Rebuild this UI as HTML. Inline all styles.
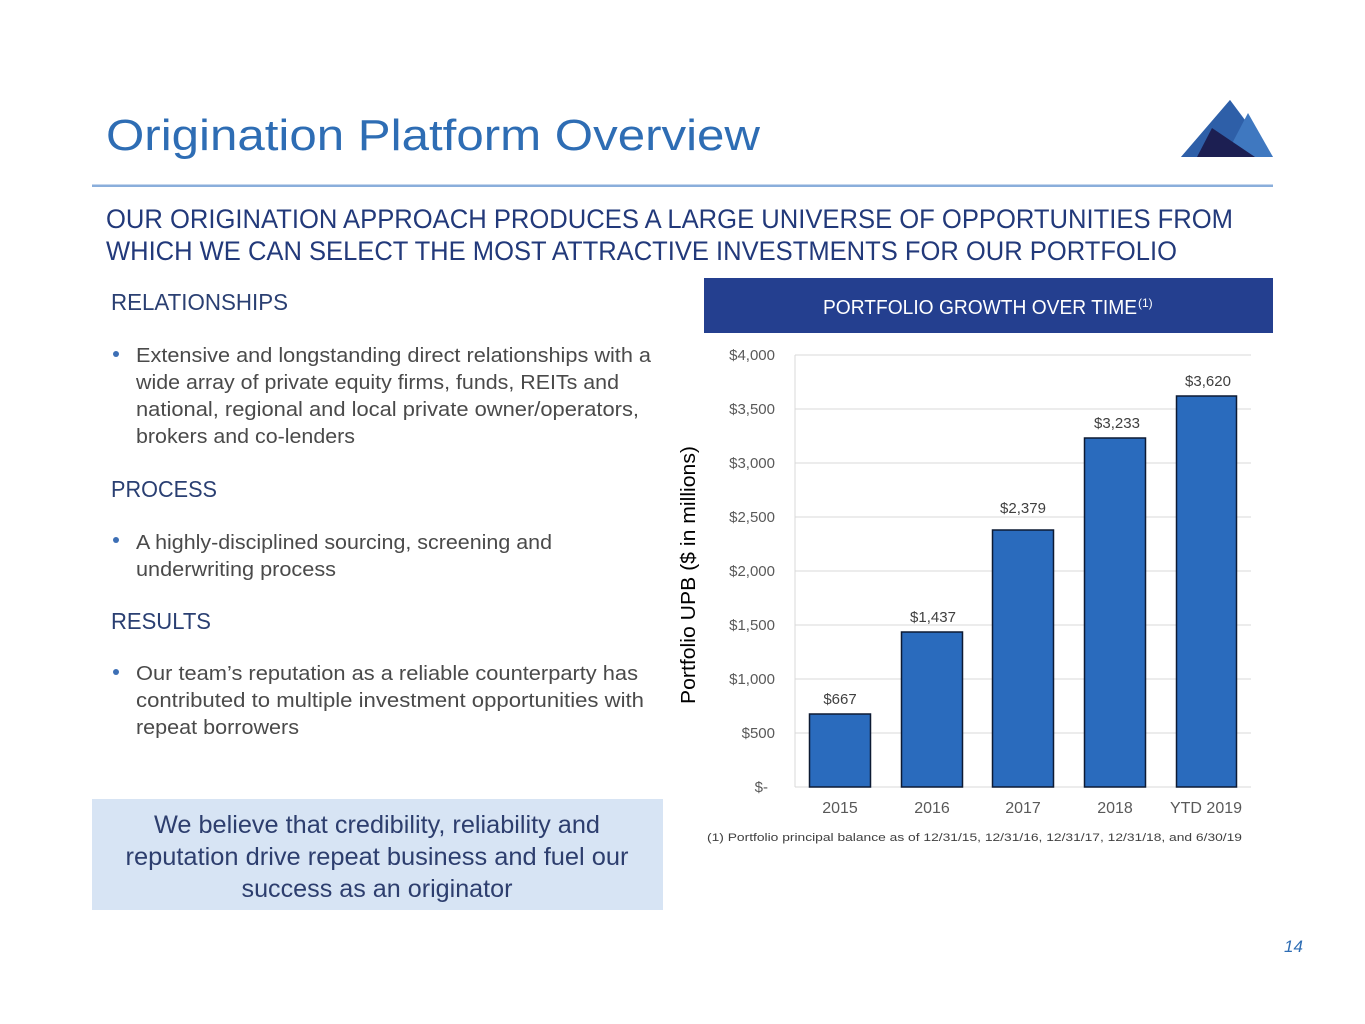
<!DOCTYPE html>
<html><head><meta charset="utf-8"><style>
html,body{margin:0;padding:0;background:#fff;}
svg{display:block;}
text{font-family:"Liberation Sans",sans-serif;}
</style></head><body>
<svg width="1365" height="1024" viewBox="0 0 1365 1024" xmlns="http://www.w3.org/2000/svg">
<!-- title -->
<text x="106" y="150" font-size="44" fill="#2e6db4" textLength="654" lengthAdjust="spacingAndGlyphs">Origination Platform Overview</text>
<!-- logo -->
<polygon points="1181,157 1230,100 1273,157" fill="#4a80c8"/>
<polygon points="1181,157 1230,100 1252,130 1228,157" fill="#2e5fa8"/>
<polygon points="1225,157 1248,113 1273,157" fill="#3f78c0"/>
<polygon points="1197,157 1212,128 1255,157" fill="#1c1f52"/>
<rect x="92" y="184.5" width="1181" height="2.5" fill="#8aaedb"/>
<!-- subtitle -->
<text x="106" y="228" font-size="27" fill="#22397a" textLength="1127" lengthAdjust="spacingAndGlyphs">OUR ORIGINATION APPROACH PRODUCES A LARGE UNIVERSE OF OPPORTUNITIES FROM</text>
<text x="106" y="260" font-size="27" fill="#22397a" textLength="1071" lengthAdjust="spacingAndGlyphs">WHICH WE CAN SELECT THE MOST ATTRACTIVE INVESTMENTS FOR OUR PORTFOLIO</text>
<!-- left column -->
<g fill="#2a3f72" font-size="23">
<text x="111" y="310" textLength="177" lengthAdjust="spacingAndGlyphs">RELATIONSHIPS</text>
<text x="111" y="497" textLength="106" lengthAdjust="spacingAndGlyphs">PROCESS</text>
<text x="111" y="629" textLength="100" lengthAdjust="spacingAndGlyphs">RESULTS</text>
</g>
<g fill="#3d6fb5"><circle cx="116" cy="354" r="3"/><circle cx="116" cy="540" r="3"/><circle cx="116" cy="672" r="3"/></g>
<g fill="#4a4a4a" font-size="20">
<text x="136" y="362" textLength="515" lengthAdjust="spacingAndGlyphs">Extensive and longstanding direct relationships with a</text>
<text x="136" y="389" textLength="483" lengthAdjust="spacingAndGlyphs">wide array of private equity firms, funds, REITs and</text>
<text x="136" y="416" textLength="503" lengthAdjust="spacingAndGlyphs">national, regional and local private owner/operators,</text>
<text x="136" y="443" textLength="219" lengthAdjust="spacingAndGlyphs">brokers and co-lenders</text>
<text x="136" y="549" textLength="416" lengthAdjust="spacingAndGlyphs">A highly-disciplined sourcing, screening and</text>
<text x="136" y="576" textLength="200" lengthAdjust="spacingAndGlyphs">underwriting process</text>
<text x="136" y="680" textLength="502" lengthAdjust="spacingAndGlyphs">Our team’s reputation as a reliable counterparty has</text>
<text x="136" y="707" textLength="508" lengthAdjust="spacingAndGlyphs">contributed to multiple investment opportunities with</text>
<text x="136" y="734" textLength="163" lengthAdjust="spacingAndGlyphs">repeat borrowers</text>
</g>
<!-- quote box -->
<rect x="92" y="799" width="571" height="111" fill="#d7e4f4"/>
<g fill="#2d3e6e" font-size="25" text-anchor="middle">
<text x="377" y="833" textLength="446" lengthAdjust="spacingAndGlyphs">We believe that credibility, reliability and</text>
<text x="377" y="865" textLength="503" lengthAdjust="spacingAndGlyphs">reputation drive repeat business and fuel our</text>
<text x="377" y="897" textLength="271" lengthAdjust="spacingAndGlyphs">success as an originator</text>
</g>
<!-- chart header -->
<rect x="704" y="278" width="569" height="55" fill="#243f8f"/>
<text x="823" y="314" font-size="20" fill="#fff" textLength="314" lengthAdjust="spacingAndGlyphs">PORTFOLIO GROWTH OVER TIME</text>
<text x="1138" y="307" font-size="12" fill="#fff">(1)</text>
<!-- gridlines -->
<g stroke="#d9d9d9" stroke-width="1">
<line x1="795" y1="355" x2="1251" y2="355"/>
<line x1="795" y1="409" x2="1251" y2="409"/>
<line x1="795" y1="463" x2="1251" y2="463"/>
<line x1="795" y1="517" x2="1251" y2="517"/>
<line x1="795" y1="571" x2="1251" y2="571"/>
<line x1="795" y1="625" x2="1251" y2="625"/>
<line x1="795" y1="679" x2="1251" y2="679"/>
<line x1="795" y1="733" x2="1251" y2="733"/>
<line x1="795" y1="787" x2="1251" y2="787"/>
<line x1="795" y1="355" x2="795" y2="787"/>
</g>
<g fill="#595959" font-size="15" text-anchor="end">
<text x="775" y="360">$4,000</text>
<text x="775" y="414">$3,500</text>
<text x="775" y="468">$3,000</text>
<text x="775" y="522">$2,500</text>
<text x="775" y="576">$2,000</text>
<text x="775" y="630">$1,500</text>
<text x="775" y="684">$1,000</text>
<text x="775" y="738">$500</text>
<text x="768" y="792">$-</text>
</g>
<text transform="translate(695,575) rotate(-90)" font-size="20" fill="#000" text-anchor="middle" textLength="258" lengthAdjust="spacingAndGlyphs">Portfolio UPB ($ in millions)</text>
<!-- bars -->
<g fill="#2a6bbd" stroke="#0d1a33" stroke-width="1.5">
<rect x="809.5" y="714" width="61" height="73"/>
<rect x="901.5" y="632" width="61" height="155"/>
<rect x="992.5" y="530" width="61" height="257"/>
<rect x="1084.5" y="438" width="61" height="349"/>
<rect x="1176.5" y="396" width="60" height="391"/>
</g>
<g fill="#404040" font-size="15" text-anchor="middle">
<text x="840" y="704">$667</text>
<text x="933" y="622">$1,437</text>
<text x="1023" y="513">$2,379</text>
<text x="1117" y="428">$3,233</text>
<text x="1208" y="386">$3,620</text>
</g>
<g fill="#595959" font-size="16" text-anchor="middle">
<text x="840" y="813">2015</text>
<text x="932" y="813">2016</text>
<text x="1023" y="813">2017</text>
<text x="1115" y="813">2018</text>
<text x="1206" y="813">YTD 2019</text>
</g>
<text x="707" y="841" font-size="11" fill="#404040" textLength="535" lengthAdjust="spacingAndGlyphs">(1) Portfolio principal balance as of 12/31/15, 12/31/16, 12/31/17, 12/31/18, and 6/30/19</text>
<text x="1284" y="952" font-size="17" font-style="italic" fill="#2e6db4">14</text>
</svg>
</body></html>
